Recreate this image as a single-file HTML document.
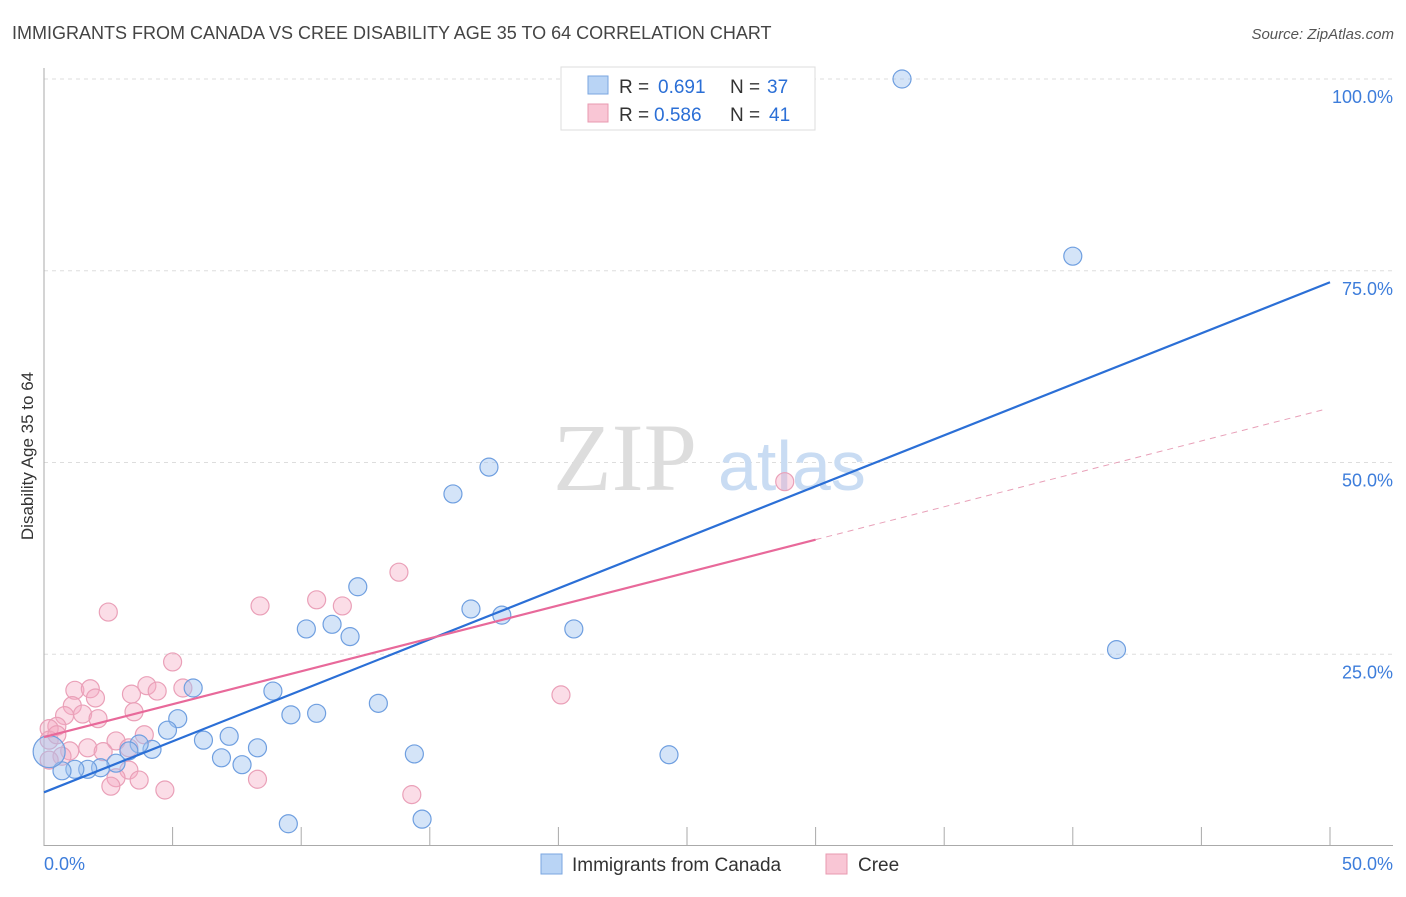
<!DOCTYPE html>
<html><head><meta charset="utf-8"><style>
body{margin:0;background:#fff;font-family:"Liberation Sans",sans-serif;}
</style></head><body>
<svg id="chart" width="1406" height="892" xmlns="http://www.w3.org/2000/svg" style="font-family:'Liberation Sans',sans-serif">
<text x="12" y="39" font-size="18" fill="#444">IMMIGRANTS FROM CANADA VS CREE DISABILITY AGE 35 TO 64 CORRELATION CHART</text>
<text x="1394" y="39" font-size="15" fill="#555" text-anchor="end" font-style="italic">Source: ZipAtlas.com</text>
<text transform="translate(33,456) rotate(-90)" font-size="17" fill="#333" text-anchor="middle">Disability Age 35 to 64</text>
<g id="grid"></g>
<text x="553" y="490" font-size="96" fill="#ddd" font-family="Liberation Serif">ZIP</text>
<text x="718" y="490" font-size="70" fill="#c9dcf3">atlas</text>
<g id="axes"></g>
<g id="pts"></g>
<g id="lines"></g>
<g font-size="19" fill="#333">
<rect x="561" y="67" width="254" height="63" fill="#fff" stroke="#ddd"/>
<rect x="588" y="76" width="20" height="18" fill="#b9d4f5" stroke="#7aa6e0"/>
<rect x="588" y="104" width="20" height="18" fill="#f9c6d5" stroke="#e89ab0"/>
<text x="619" y="93">R =</text><text x="658" y="93" fill="#2b6fd6">0.691</text>
<text x="730" y="93">N =</text><text x="767" y="93" fill="#2b6fd6">37</text>
<text x="619" y="121">R =</text><text x="654" y="121" fill="#2b6fd6">0.586</text>
<text x="730" y="121">N =</text><text x="769" y="121" fill="#2b6fd6">41</text>
</g>
<g>
<rect x="541" y="854" width="21" height="20" fill="#b9d4f5" stroke="#7aa6e0"/>
<text x="572" y="871" font-size="19" fill="#333">Immigrants from Canada</text>
<rect x="826" y="854" width="21" height="20" fill="#f9c6d5" stroke="#e89ab0"/>
<text x="858" y="871" font-size="19" fill="#333">Cree</text>
</g>
</svg>
<script>
const blueX=[33.36,40.0,41.7,17.3,15.9,12.2,16.6,17.8,20.6,10.2,11.2,11.9,13.0,8.9,5.8,5.2,4.8,9.6,10.6,6.2,7.2,8.3,6.9,7.7,4.2,3.7,3.3,2.8,2.2,1.7,1.2,0.7,0.2,14.4,24.3,9.5,14.7];
const blueY=[100.0,76.9,25.6,49.4,45.9,33.8,30.9,30.1,28.3,28.3,28.9,27.3,18.6,20.2,20.6,16.6,15.1,17.1,17.3,13.8,14.3,12.8,11.5,10.6,12.6,13.3,12.4,10.8,10.2,10.0,10.0,9.8,12.3,12.0,11.9,2.9,3.5];
const pinkX=[28.8,13.8,10.6,11.6,8.4,2.5,5.0,20.1,4.0,4.4,5.4,3.4,1.2,1.8,2.0,1.1,0.8,1.5,2.1,0.5,0.2,3.5,3.9,2.8,1.7,3.3,2.3,1.0,3.3,2.8,3.7,2.6,4.7,8.3,14.3,0.2,0.5,0.7,0.2];
const pinkY=[47.5,35.7,32.1,31.3,31.3,30.5,24.0,19.7,20.9,20.2,20.6,19.8,20.3,20.5,19.3,18.3,17.0,17.2,16.6,15.6,15.3,17.5,14.5,13.7,12.8,12.8,12.3,12.4,9.9,8.9,8.6,7.8,7.3,8.7,6.7,13.8,14.5,11.7,11.2];
const blueTrend=[7.0,73.5];
const pinkTrend=[14.2,57.1];
const yTicks=[25,50,75,100];
const yTickLabels=["25.0%","50.0%","75.0%","100.0%"];
const NS="http://www.w3.org/2000/svg";
const sx=v=>44+v/50*1286, sy=v=>846-v/100*767;
function mk(tag,attrs,parent){const e=document.createElementNS(NS,tag);for(const k in attrs)e.setAttribute(k,attrs[k]);parent.appendChild(e);return e;}
const grid=document.getElementById('grid'),axes=document.getElementById('axes'),pts=document.getElementById('pts'),lines=document.getElementById('lines');
yTicks.forEach((t,i)=>{
 const l=mk('line',{x1:44,x2:1393,y1:sy(t),y2:sy(t),stroke:'#ddd','stroke-dasharray':'4,4'},grid);
 
 
 const tx=mk('text',{x:1393,y:sy(t)+24,'font-size':18,fill:'#3d7ddb','text-anchor':'end'},axes);
 tx.textContent=yTickLabels[i];
 
 
});
mk('line',{x1:44,x2:44,y1:68,y2:846,stroke:'#aaa'},axes);
mk('line',{x1:44,x2:1393,y1:845.5,y2:845.5,stroke:'#aaa'},axes);
for(let i=1;i<=10;i++){const x=sx(i*5);const t=mk('line',{x1:x,x2:x,y1:827,y2:846,stroke:'#aaa'},axes);
 
 }
const x0=mk('text',{x:44,y:870,'font-size':18,fill:'#3d7ddb'},axes);x0.textContent='0.0%';


const x1=mk('text',{x:1393,y:870,'font-size':18,fill:'#3d7ddb','text-anchor':'end'},axes);x1.textContent='50.0%';


pinkX.forEach((v,i)=>{const c=mk('circle',{cx:sx(v),cy:sy(pinkY[i]),r:9,fill:'rgba(245,170,195,0.4)',stroke:'#eaa0b8','stroke-width':1.2},pts);
 
 });
blueX.forEach((v,i)=>{const c=mk('circle',{cx:sx(v),cy:sy(blueY[i]),r:i==32?16:9,fill:'rgba(160,195,240,0.45)',stroke:'#6f9fe0','stroke-width':1.2},pts);
 
 });
const bl=mk('line',{x1:sx(0),y1:sy(blueTrend[0]),x2:sx(50),y2:sy(blueTrend[1]),stroke:'#2b6fd6','stroke-width':2.2},lines);


const pAt=x=>pinkTrend[0]+(pinkTrend[1]-pinkTrend[0])*x/50;
const pl=mk('line',{x1:sx(0),y1:sy(pAt(0)),x2:sx(30),y2:sy(pAt(30)),stroke:'#e8699a','stroke-width':2.2},lines);


const pd=mk('line',{x1:sx(30),y1:sy(pAt(30)),x2:sx(49.8),y2:sy(pAt(49.8)),stroke:'#e8a0b8','stroke-width':1,'stroke-dasharray':'6,5'},lines);


</script>
</body></html>
